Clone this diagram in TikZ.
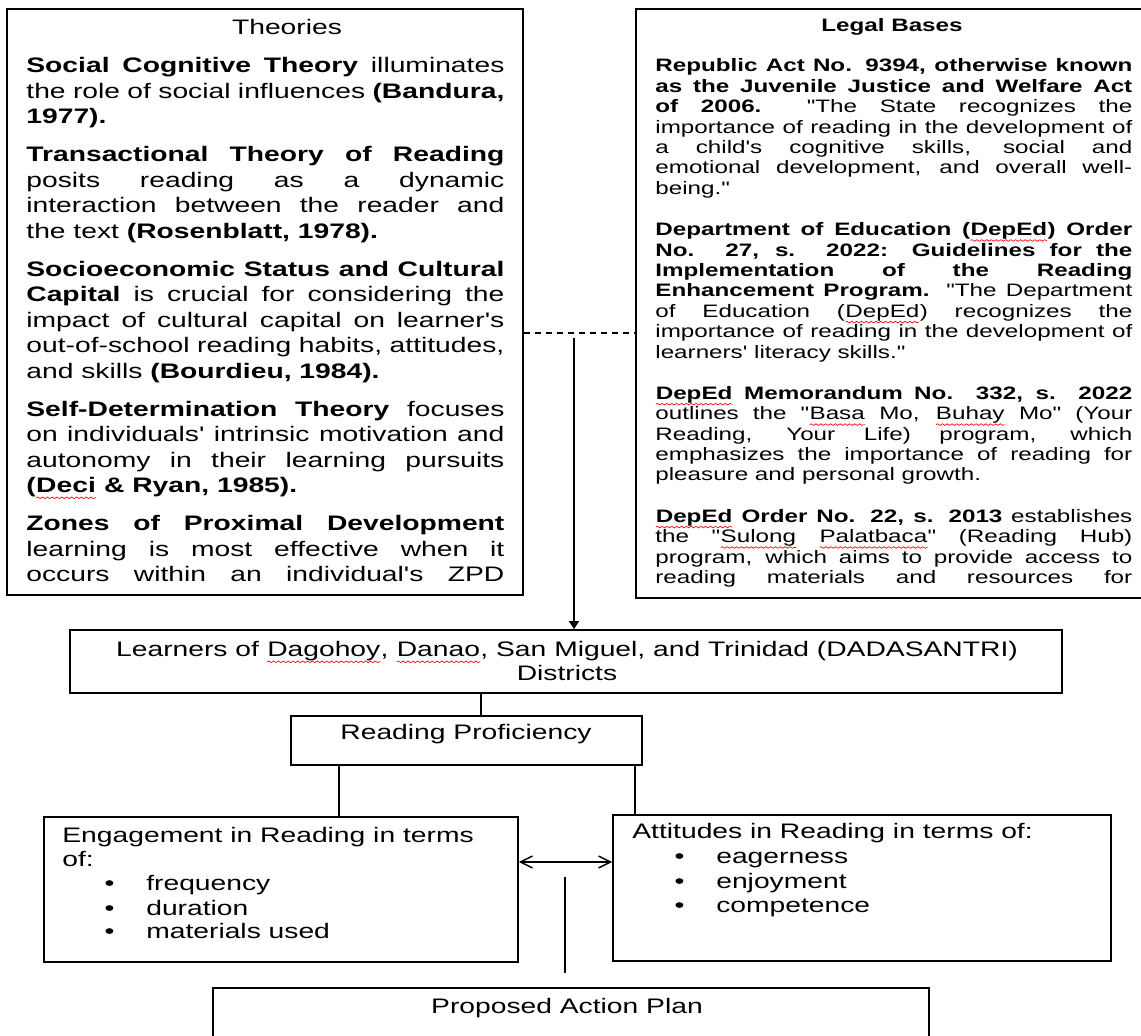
\documentclass[tikz,border=0pt]{standalone}
\usepackage{fontspec}
\setmainfont{Liberation Sans}[Ligatures=TeXOff]
\usepackage{graphicx}
\usetikzlibrary{arrows.meta,fit,decorations.pathmorphing}
\newcommand{\wide}[1]{\scalebox{1.345}[1]{#1}}
\newcommand{\spell}[1]{\tikz[baseline=(w.base)]{\node[inner sep=0pt, outer sep=0pt] (w) {#1};
	\draw[red, line width=0.3pt, decorate, decoration={snake, amplitude=0.4pt, segment length=1.8pt}] ([yshift=-2.4pt]w.base west) -- ([yshift=-2.4pt]w.base east);}}
\newcommand{\bul}[1]{\hspace*{15.7pt}\makebox[15.5pt][l]{\textbullet}#1}

\tikzset{
	panel/.style={draw, line width=0.9pt, inner sep=0pt},
	txt/.style={inner sep=0pt, anchor=base west},
	wire/.style={line width=0.7pt},
	big/.style={font=\fontsize{10.5pt}{12pt}\selectfont},
}

\begin{document}
\begin{tikzpicture}[x=0.5pt,y=-0.5pt]
	\path[use as bounding box, fill=white] (0,0) rectangle (1141,1036);

	% boxes
	\node[panel, fit={(7,9) (523,595)}] (theories) {};
	\node[panel, fit={(636,9) (1150,598)}] (legal) {};
	\node[panel, fit={(70,630) (1062,693)}] (learners) {};
	\node[panel, fit={(291,716) (642,765)}] (proficiency) {};
	\node[panel, fit={(44,817) (518,962)}] (engagement) {};
	\node[panel, fit={(613,815) (1111,961)}] (attitudes) {};
	\node[panel, fit={(213,988) (929,1050)}] (plan) {};

	% theories
	\node[big, anchor=base] (theoryTitle) at (287,35) {\wide{Theories}};
	\node[txt, font=\fontsize{10.5pt}{12.75pt}\selectfont] (theoryBody) at (26,73) {\wide{\parbox[t]{177.7pt}{\setlength{\parskip}{6.25pt}%
	\textbf{Social Cognitive Theory} illuminates\linebreak the role of social influences \textbf{(Bandura,\linebreak 1977).}\par
	\textbf{Transactional Theory of Reading}\linebreak posits reading as a dynamic\linebreak interaction between the reader and\linebreak the text \textbf{(Rosenblatt, 1978).}\par
	\textbf{Socioeconomic Status and Cultural\linebreak Capital} is crucial for considering the\linebreak impact of cultural capital on learner's\linebreak out-of-school reading habits, attitudes,\linebreak and skills \textbf{(Bourdieu, 1984).}\par
	\textbf{Self-Determination Theory} focuses\linebreak on individuals' intrinsic motivation and\linebreak autonomy in their learning pursuits\linebreak \textbf{(\spell{Deci} \& Ryan, 1985).}\par
	\textbf{Zones of Proximal Development}\linebreak learning is most effective when it\linebreak occurs within an individual's ZPD\parfillskip=0pt\par}}};

	% legal bases
	\node[anchor=base, font=\bfseries\fontsize{9pt}{10.2pt}\selectfont] (legalTitle) at (892,32) {\wide{Legal Bases}};
	\node[txt, font=\fontsize{9pt}{10.2pt}\selectfont] (legalBody) at (655,72) {\wide{\parbox[t]{177.3pt}{\setlength{\parskip}{10.45pt}%
	\textbf{Republic Act No. 9394, otherwise known\linebreak as the Juvenile Justice and Welfare Act\linebreak of 2006.}\ \ "The State recognizes the\linebreak importance of reading in the development of\linebreak a child's cognitive skills, social and\linebreak emotional development, and overall well-\linebreak being."\par
	\textbf{Department of Education (\spell{DepEd}) Order\linebreak No. 27, s. 2022: Guidelines for the\linebreak Implementation of the Reading\linebreak Enhancement Program.} "The Department\linebreak of Education (\spell{DepEd}) recognizes the\linebreak importance of reading in the development of\linebreak learners' literacy skills."\par
	\textbf{\spell{DepEd} Memorandum No. 332, s. 2022}\linebreak outlines the "\spell{Basa} Mo, \spell{Buhay} Mo" (Your\linebreak Reading, Your Life) program, which\linebreak emphasizes the importance of reading for\linebreak pleasure and personal growth.\par
	\textbf{\spell{DepEd} Order No. 22, s. 2013} establishes\linebreak the "\spell{Sulong} \spell{Palatbaca}" (Reading Hub)\linebreak program, which aims to provide access to\linebreak reading materials and resources for\parfillskip=0pt\par}}};

	% lower boxes
	\node[big, anchor=base] (learnersText) at (567,657) {\wide{\parbox[t]{345pt}{\centering Learners of \spell{Dagohoy}, \spell{Danao}, San Miguel, and Trinidad (DADASANTRI)\\ Districts}}};
	\node[big, anchor=base] (profText) at (466,740) {\wide{Reading Proficiency}};
	\node[big, txt] (engText) at (62,843) {\wide{\parbox[t]{220pt}{\raggedright Engagement in Reading in terms\\ of:\\ \bul{frequency}\\ \bul{duration}\\ \bul{materials used}}}};
	\node[txt, font=\fontsize{10.5pt}{12.3pt}\selectfont] (attText) at (632,839) {\wide{\parbox[t]{220pt}{\raggedright Attitudes in Reading in terms of:\\ \bul{eagerness}\\ \bul{enjoyment}\\ \bul{competence}}}};
	\node[big, anchor=base] (planText) at (567,1013) {\wide{Proposed Action Plan}};

	% connectors
	\coordinate (dashY) at (0,333);
	\coordinate (arrowTop) at (574,338);
	\coordinate (stemX) at (481,0);
	\coordinate (legL) at (339,0);
	\coordinate (legR) at (635,0);
	\coordinate (pairY) at (0,862);
	\coordinate (planTop) at (565,877);
	\coordinate (planBot) at (565,973);

	\draw[wire, dash pattern=on 3pt off 2.5pt] (theories.east |- dashY) -- (legal.west |- dashY);
	\draw[wire, -{Triangle[length=4pt,width=5pt]}] (arrowTop) -- (arrowTop |- learners.north);
	\draw[wire] (learners.south -| stemX) -- (proficiency.north -| stemX);
	\draw[wire] (proficiency.south -| legL) -- (engagement.north -| legL);
	\draw[wire] (proficiency.south -| legR) -- (attitudes.north -| legR);
	\draw[wire, {Straight Barb[length=6pt,width=6pt]}-{Straight Barb[length=6pt,width=6pt]}] (engagement.east |- pairY) -- (attitudes.west |- pairY);
	\draw[wire] (planTop) -- (planBot);
\end{tikzpicture}
\end{document}
